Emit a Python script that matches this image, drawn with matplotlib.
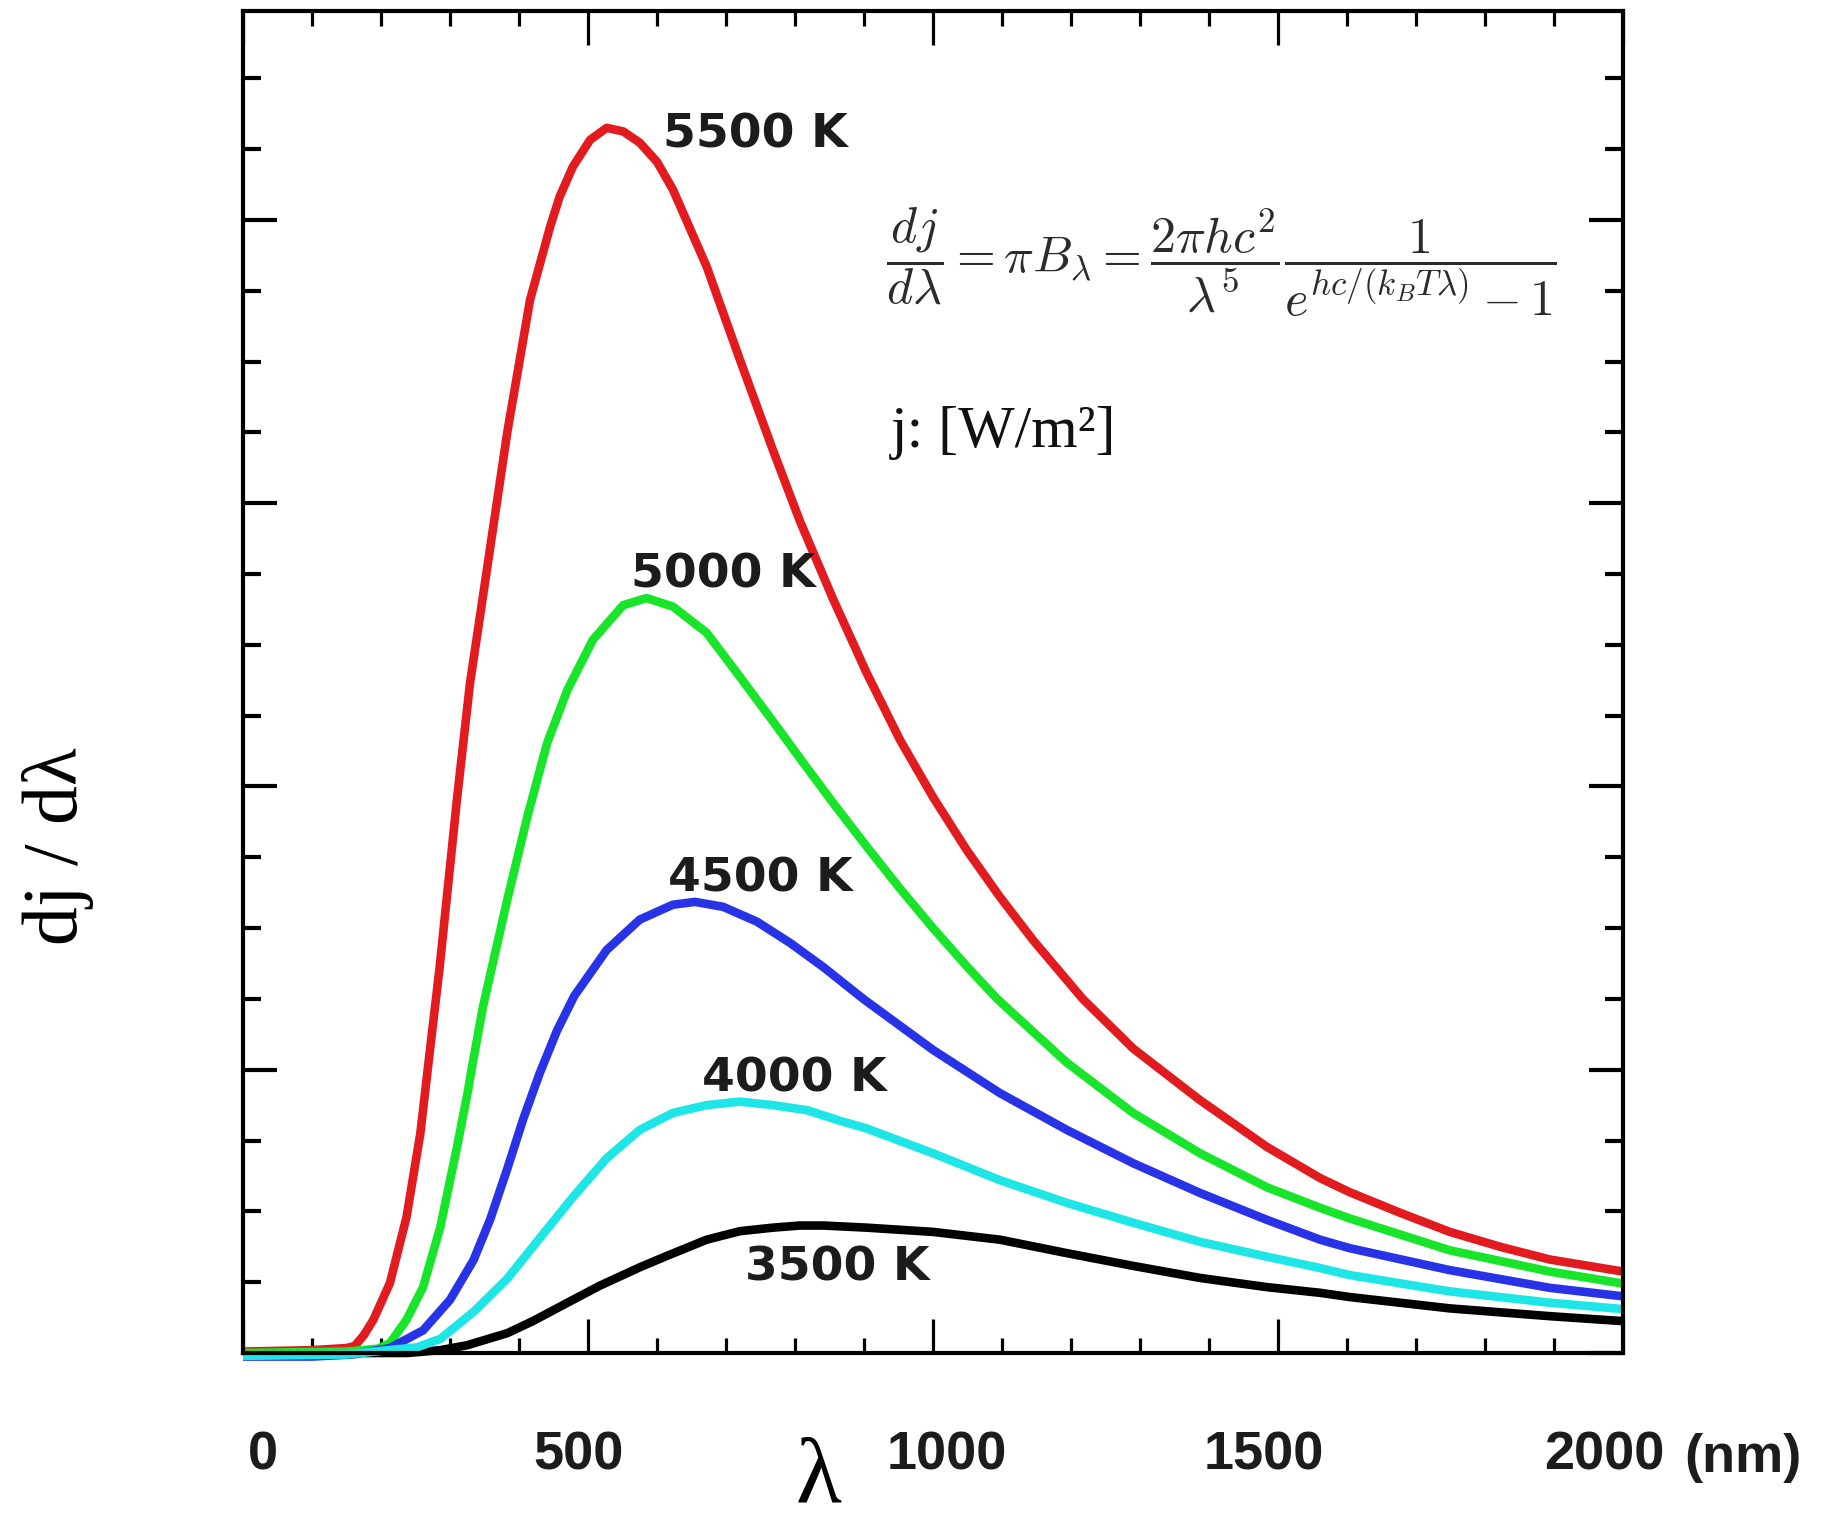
import matplotlib
matplotlib.use("Agg")
import matplotlib.pyplot as plt
import matplotlib.transforms as mtransforms
from matplotlib.ticker import MultipleLocator

# values: wavelength in nm, dj/dlambda in tick units
lam_5500 = [0, 100, 150, 162, 175, 189, 213, 237, 257, 271, 285, 310, 329, 348, 383, 416, 445, 459,
            478, 503, 527, 551, 575, 600, 623, 672, 720, 768, 807, 855, 904, 952, 1000, 1049, 1097,
            1145, 1217, 1290, 1387, 1484, 1561, 1604, 1677, 1749, 1822, 1894, 2000]
dj_5500 = [0.02, 0.04, 0.07, 0.1, 0.25, 0.47, 0.99, 1.92, 3.1, 4.28, 5.45, 7.81, 9.46, 10.7, 13.0, 14.87,
           15.9, 16.33, 16.75, 17.13, 17.3, 17.25, 17.09, 16.82, 16.43, 15.34, 14.03, 12.75, 11.75, 10.65,
           9.6, 8.66, 7.85, 7.1, 6.44, 5.83, 5.0, 4.3, 3.57, 2.91, 2.47, 2.27, 1.98, 1.71, 1.5, 1.32, 1.15]

lam_5000 = [0, 150, 195, 213, 237, 261, 286, 310, 326, 333, 348, 383, 412, 441, 470, 507, 551, 585,
            623, 672, 720, 768, 807, 855, 904, 952, 1000, 1049, 1093, 1194, 1290, 1387, 1484, 1561,
            1604, 1749, 1894, 2000]
dj_5000 = [0.0, 0.02, 0.06, 0.14, 0.47, 0.93, 1.78, 2.9, 3.7, 4.1, 4.9, 6.4, 7.57, 8.62, 9.36, 10.07,
           10.56, 10.66, 10.54, 10.17, 9.55, 8.92, 8.4, 7.77, 7.15, 6.56, 6.0, 5.46, 5.0, 4.1, 3.39,
           2.82, 2.34, 2.05, 1.9, 1.45, 1.15, 0.98]

lam_4500 = [0, 100, 160, 213, 261, 300, 334, 358, 383, 406, 430, 455, 480, 527, 575, 623, 655, 696,
            745, 793, 841, 899, 1000, 1097, 1194, 1290, 1387, 1484, 1561, 1604, 1749, 1894, 2000]
dj_4500 = [-0.05, -0.05, -0.02, 0.07, 0.32, 0.75, 1.31, 1.88, 2.6, 3.3, 3.95, 4.55, 5.04, 5.69, 6.12,
           6.33, 6.37, 6.3, 6.09, 5.79, 5.45, 5.0, 4.28, 3.67, 3.15, 2.68, 2.26, 1.88, 1.6, 1.48, 1.17,
           0.92, 0.8]

lam_4000 = [0, 150, 252, 286, 334, 383, 430, 478, 527, 575, 623, 672, 720, 768, 817, 865, 904, 1000,
            1097, 1194, 1290, 1387, 1484, 1561, 1604, 1749, 1894, 2000]
dj_4000 = [-0.04, -0.02, 0.08, 0.2, 0.58, 1.05, 1.62, 2.2, 2.75, 3.15, 3.39, 3.5, 3.55, 3.5, 3.43, 3.28,
           3.17, 2.82, 2.44, 2.12, 1.84, 1.57, 1.36, 1.2, 1.1, 0.87, 0.71, 0.62]

lam_3500 = [0, 238, 286, 325, 383, 420, 478, 517, 575, 614, 672, 720, 768, 807, 841, 904, 1000, 1097,
            1194, 1290, 1387, 1484, 1561, 1604, 1749, 1894, 2000]
dj_3500 = [0.0, 0.0, 0.04, 0.11, 0.28, 0.45, 0.75, 0.95, 1.21, 1.37, 1.6, 1.72, 1.77, 1.8, 1.8, 1.77,
           1.71, 1.6, 1.41, 1.23, 1.06, 0.93, 0.85, 0.79, 0.63, 0.52, 0.45]

temp_labels = ["3500 K", "4000 K", "4500 K", "5000 K", "5500 K"]
xtick_vals = [0, 500, 1000, 1500, 2000]
xtick_text = ["0", "500", "1000", "1500", "2000"]

W, H = 1823, 1526
fig = plt.figure(figsize=(W / 100, H / 100), dpi=100)
ax = fig.add_axes([243 / W, 1 - 1353 / H, 1380 / W, 1342 / H])

series = [
    (lam_3500, dj_3500, "#000000"),
    (lam_5500, dj_5500, "#e21b1f"),
    (lam_5000, dj_5000, "#18e52a"),
    (lam_4500, dj_4500, "#2832e6"),
    (lam_4000, dj_4000, "#1ee6e6"),
]
for lam, dj, col in series:
    ax.plot(lam, dj, color=col, lw=6.2, solid_joinstyle="round", solid_capstyle="butt",
            clip_on=False, zorder=3)

ax.set_xlim(0, 2000)
ax.set_ylim(0, 18.95)

for s in ax.spines.values():
    s.set_linewidth(3.0)
    s.set_zorder(4)

ax.xaxis.set_major_locator(MultipleLocator(500))
ax.xaxis.set_minor_locator(MultipleLocator(100))
ax.yaxis.set_major_locator(MultipleLocator(4))
ax.yaxis.set_minor_locator(MultipleLocator(1))
ax.tick_params(axis="x", which="both", direction="in", top=True, bottom=True, width=2.3)
ax.tick_params(axis="x", which="major", length=24.5, pad=56)
ax.tick_params(axis="x", which="minor", length=10.8)
ax.tick_params(axis="y", which="both", direction="in", left=True, right=True, width=3.0,
               labelleft=False)
ax.tick_params(axis="y", which="major", length=24.5)
ax.tick_params(axis="y", which="minor", length=13)

ax.set_xticks(xtick_vals)
ax.set_xticklabels(xtick_text, fontfamily="Liberation Sans", fontweight="bold",
                   fontsize=39, color="#1c1c1c")
# labels in the original sit a little off their ticks
shifts = [20, -9, 14, -14, -19]
for lab, dx in zip(ax.get_xticklabels(), shifts):
    lab.set_transform(lab.get_transform() + mtransforms.ScaledTranslation(dx / 100, 0, fig.dpi_scale_trans))

fig.text(1684 / W, 1 - 1472 / H, "(nm)", fontfamily="Liberation Sans", fontweight="bold",
         fontsize=39, color="#1c1c1c", va="baseline", ha="left")

# temperature labels
label_pos = [(728, 1.02), (665, 3.69), (616, 6.51), (562, 10.81), (609, 17.02)]
for txt, (lx, ly) in zip(temp_labels, label_pos):
    ax.text(lx, ly, txt, fontfamily="DejaVu Sans", fontweight="bold", fontsize=34,
            color="#1c1c1c", ha="left", va="baseline", zorder=5)

# axis labels
fig.text(818 / W, 1 - 1503 / H, "λ", fontfamily="Liberation Serif", fontsize=68,
         ha="center", va="baseline")
fig.text(58 / W, 1 - 846 / H, "dj / dλ", fontfamily="Liberation Serif", fontsize=56,
         rotation=90, ha="center", va="center")

# formula and units
plt.rcParams["mathtext.fontset"] = "cm"
fig.text(886 / W, 1 - 262 / H,
         r"$\dfrac{dj}{d\lambda} = \pi B_\lambda = \dfrac{2\pi hc^2}{\lambda^5}\dfrac{1}{e^{hc/(k_B T\lambda)} - 1}$",
         fontsize=36, color="#2b2b2b", ha="left", va="center")
fig.text(891 / W, 1 - 433 / H, "j: [W/m²]", fontfamily="Liberation Serif", fontsize=43,
         color="#111111", ha="left", va="center")

fig.savefig("out.png", dpi=100)
